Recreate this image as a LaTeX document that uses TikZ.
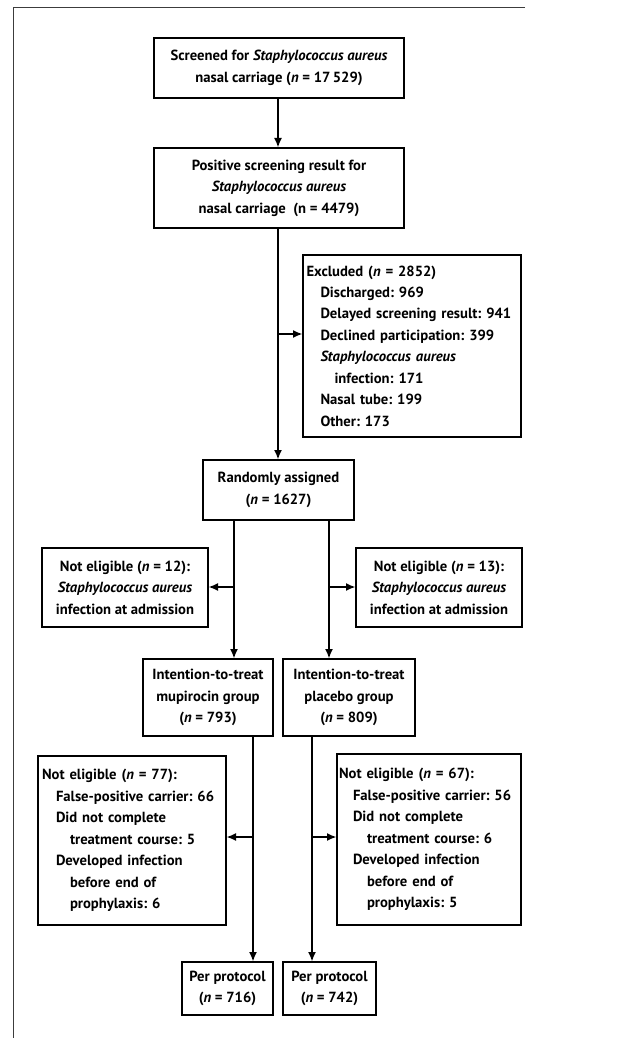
\documentclass[tikz,border=0pt]{standalone}
\usepackage{fontspec}
\setmainfont{PT Sans}
\usetikzlibrary{arrows.meta}
\frenchspacing

\tikzset{every picture/.style={line width=0.75pt}}
\tikzset{
  box/.style={draw, line width=1pt, inner sep=0pt, align=center,
    font=\bfseries\fontsize{11}{16.1}\selectfont},
  listbox/.style={box, align=left},
  arr/.style={line width=1pt, -{Latex[length=7pt,width=6pt]}},
  link/.style={line width=1pt}
}
\newcommand{\ind}{\hspace*{10.5pt}}
\newcommand{\sa}{\textit{Staphylococcus aureus}}

\begin{document}
\begin{tikzpicture}[x=0.75pt,y=0.75pt,yscale=-1,xscale=1]
        \useasboundingbox (0,0) rectangle (621,1038);

        %Frame
        \draw [color={rgb, 255:red, 60; green, 60; blue, 60 }] (525,8) -- (13.5,8) -- (13.5,1038);

        % Text Node
        \node (scr) [box, minimum width=250*0.75pt, minimum height=60*0.75pt] at (279,68)
          {Screened for \sa\\nasal carriage (\textit{n} = 17\,529)};
        % Text Node
        \node (pos) [box, minimum width=250*0.75pt, minimum height=80*0.75pt] at (279,188)
          {Positive screening result for\\\sa\\nasal carriage\ \ (n = 4479)};
        % Text Node
        \node (excl) [listbox, minimum width=218*0.75pt, minimum height=182*0.75pt, text width=211*0.75pt] at (412,346)
          {Excluded (\textit{n} = 2852)\\
           \ind Discharged: 969\\
           \ind Delayed screening result: 941\\
           \ind Declined participation: 399\\
           \ind\sa\\
           \ind\ind infection: 171\\
           \ind Nasal tube: 199\\
           \ind Other: 173};
        % Text Node
        \node (rand) [box, minimum width=151*0.75pt, minimum height=60*0.75pt] at (278.5,490)
          {Randomly assigned\\(\textit{n} = 1627)};
        % Text Node
        \node (neL) [box, minimum width=166*0.75pt, minimum height=79*0.75pt] at (125,587.5)
          {Not eligible (\textit{n} = 12):\\\sa\\infection at admission};
        % Text Node
        \node (neR) [box, minimum width=166*0.75pt, minimum height=79*0.75pt] at (439,587.5)
          {Not eligible (\textit{n} = 13):\\\sa\\infection at admission};
        % Text Node
        \node (ittM) [box, minimum width=130*0.75pt, minimum height=77*0.75pt] at (208,697.5)
          {Intention-to-treat\\mupirocin group\\(\textit{n} = 793)};
        % Text Node
        \node (ittP) [box, minimum width=132*0.75pt, minimum height=77*0.75pt] at (349,697.5)
          {Intention-to-treat\\placebo group\\(\textit{n} = 809)};
        % Text Node
        \node (exM) [listbox, minimum width=188*0.75pt, minimum height=169*0.75pt, text width=180*0.75pt] at (132,840.5)
          {Not eligible (\textit{n} = 77):\\
           \ind False-positive carrier: 66\\
           \ind Did not complete\\
           \ind\ind treatment course: 5\\
           \ind Developed infection\\
           \ind\ind before end of\\
           \ind\ind prophylaxis: 6};
        % Text Node
        \node (exP) [listbox, minimum width=184*0.75pt, minimum height=171*0.75pt, text width=180*0.75pt] at (429,839.5)
          {Not eligible (\textit{n} = 67):\\
           \ind False-positive carrier: 56\\
           \ind Did not complete\\
           \ind\ind treatment course: 6\\
           \ind Developed infection\\
           \ind\ind before end of\\
           \ind\ind prophylaxis: 5};
        % Text Node
        \node (ppM) [box, minimum width=91*0.75pt, minimum height=53*0.75pt] at (227.5,988.5)
          {Per protocol\\(\textit{n} = 716)};
        % Text Node
        \node (ppP) [box, minimum width=93*0.75pt, minimum height=53*0.75pt] at (329.5,988.5)
          {Per protocol\\(\textit{n} = 742)};

        %Branch points
        \coordinate (jExcl) at (278,334);
        \coordinate (jL) at (234,587);
        \coordinate (jR) at (329,587);
        \coordinate (kL) at (253,837);
        \coordinate (kR) at (312,837);

        %Straight Lines
        \draw [arr] (scr.south -| jExcl) -- (pos.north -| jExcl);
        \draw [arr] (pos.south -| jExcl) -- (rand.north -| jExcl);
        \draw [arr] (jExcl) -- (jExcl -| excl.west);
        \draw [arr] (rand.south -| jL) -- (ittM.north -| jL);
        \draw [arr] (jL) -- (jL -| neL.east);
        \draw [arr] (rand.south -| jR) -- (ittP.north -| jR);
        \draw [arr] (jR) -- (jR -| neR.west);
        \draw [arr] (ittM.south -| kL) -- (ppM.north -| kL);
        \draw [arr] (kL) -- (kL -| exM.east);
        \draw [arr] (ittP.south -| kR) -- (ppP.north -| kR);
        \draw [arr] (kR) -- (kR -| exP.west);

    \end{tikzpicture}
\end{document}
